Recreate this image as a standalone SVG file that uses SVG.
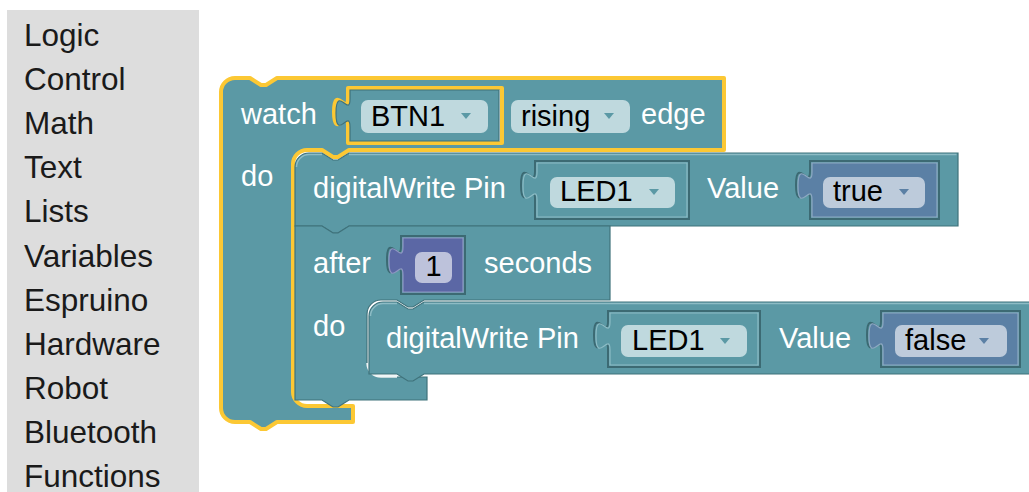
<svg xmlns="http://www.w3.org/2000/svg" width="1029" height="492" viewBox="0 0 1029 492">
<style>
.side{font-family:"Liberation Sans",Arial,sans-serif;font-size:31.5px;fill:#1a1a1a}
.lbl{font-family:"Liberation Sans",Arial,sans-serif;font-size:29px;fill:#fff}
.fld{font-family:"Liberation Sans",Arial,sans-serif;font-size:29px;fill:#000}
.teal{fill:#5b99a5;stroke:#8dbcc5;stroke-width:1.2}
.blue{fill:#5b80a5;stroke:#8ea8c2;stroke-width:1.2}
.purple{fill:#5b67a5;stroke:#8e96c2;stroke-width:1.2}
.body{fill:#5b99a5;stroke:#3f727b;stroke-width:1.2}
.hole{fill:none;stroke:#3c6a73;stroke-width:2}
.hl{fill:none;stroke:#8dbcc5;stroke-width:1.5}
.ft{fill:#bfd9de}
.fb{fill:#bdcbdb}
.fp{fill:#bdc2db}
.at{fill:#5b99a5}
.ab{fill:#5b80a5}
</style>
<rect x="7" y="10" width="192" height="482" fill="#dddddd"/>
<g id="toolbox">
<text class="side" x="24" y="46">Logic</text>
<text class="side" x="24" y="90">Control</text>
<text class="side" x="24" y="134">Math</text>
<text class="side" x="24" y="178">Text</text>
<text class="side" x="24" y="222">Lists</text>
<text class="side" x="24" y="267">Variables</text>
<text class="side" x="24" y="311">Espruino</text>
<text class="side" x="24" y="355">Hardware</text>
<text class="side" x="24" y="399">Robot</text>
<text class="side" x="24" y="443">Bluetooth</text>
<text class="side" x="24" y="487">Functions</text>
</g>
<g id="connectors"></g>
<g id="watch">
<path d="M221,92 a14,14 0 0 1 14,-14 H250 l11,7 5,0 11,-7 H724 V150 H349 l-11,7 -5,0 -11,-7 H307 a14,14 0 0 0 -14,14 V392 a14,14 0 0 0 14,14 H353 V422 H277 l-11,7 -5,0 -11,-7 H235 a14,14 0 0 1 -14,-14 Z M502,88 H348 V98 c0,19 -14,-15 -14,14 s14,-5 14,14 V143 H502 Z" fill="#5b99a5" fill-rule="evenodd" stroke="#fcc834" stroke-width="4" stroke-linejoin="round"/>
<text class="lbl" x="241" y="124">watch</text>
<text class="lbl" x="241" y="186">do</text>
<text class="lbl" x="641" y="124">edge</text>
<rect class="ft" x="511" y="100" width="119" height="33" rx="7"/>
<text class="fld" x="521" y="126">rising</text>
<polygon class="at" points="604,113 614,113 609,119"/>
</g>
<g id="btn1">
<path class="body" d="M499,90 H350 V99 c0,19 -14,-15 -14,14 s14,-5 14,14 V141 H499 Z"/>
<rect class="ft" x="361" y="100" width="127" height="33" rx="7"/>
<text class="fld" x="371" y="126">BTN1</text>
<polygon class="at" points="461,113 471,113 466,119"/>
</g>
<g id="digitalWrite1">
<path class="body" d="M295,167 a14,14 0 0 1 14,-14 H322 l11,7 5,0 11,-7 H958 V226 H349 l-11,7 -5,0 -11,-7 H295 Z"/>
<path class="hl" d="M296.5,167 a12.5,12.5 0 0 1 12.5,-12.5 H322 M349,154.5 H956.5"/>
<text class="lbl" x="313" y="198">digitalWrite Pin</text>
<path class="hole" d="M689,161 H535 V171 c0,19 -14,-15 -14,14 s14,-5 14,14 V219 H689 Z"/>
<text class="lbl" x="707" y="198">Value</text>
<path class="hole" d="M939,161 H810 V171 c0,19 -14,-15 -14,14 s14,-5 14,14 V219 H939 Z"/>
</g>
<g id="led1a">
<path class="teal" d="M687,163 H537 V172 c0,19 -14,-15 -14,14 s14,-5 14,14 V217 H687 Z"/>
<rect class="ft" x="550" y="177" width="125" height="31" rx="7"/>
<text class="fld" x="560" y="201">LED1</text>
<polygon class="at" points="649,189 659,189 654,195"/>
</g>
<g id="true">
<path class="blue" d="M937,163 H812 V172 c0,19 -14,-15 -14,14 s14,-5 14,14 V217 H937 Z"/>
<rect class="fb" x="823" y="177" width="102" height="31" rx="7"/>
<text class="fld" x="833" y="201">true</text>
<polygon class="ab" points="899,189 909,189 904,195"/>
</g>
<g id="after">
<path class="body" d="M295,226 H322 l11,7 5,0 11,-7 H610 V300 H424 l-11,7 -5,0 -11,-7 H381 a14,14 0 0 0 -14,14 V363 a14,14 0 0 0 14,14 H427 V400 H349 l-11,7 -5,0 -11,-7 H295 Z"/>
<path d="M367.5,363 a13.5,13.5 0 0 0 13.5,13.5 H397" fill="none" stroke="#eef5f6" stroke-width="2.5"/>
<text class="lbl" x="313" y="273">after</text>
<path class="hole" d="M465,236 H401 V246 c0,19 -14,-15 -14,14 s14,-5 14,14 V294 H465 Z"/>
<text class="lbl" x="484" y="273">seconds</text>
<text class="lbl" x="313" y="336">do</text>
</g>
<g id="num1">
<path class="purple" d="M463,238 H403 V247 c0,19 -14,-15 -14,14 s14,-5 14,14 V292 H463 Z"/>
<rect class="fp" x="415" y="252" width="37" height="31" rx="7"/>
<text class="fld" x="433.5" y="276" text-anchor="middle">1</text>
</g>
<g id="digitalWrite2">
<path class="body" d="M369,316 a14,14 0 0 1 14,-14 H397 l11,7 5,0 11,-7 H1040 V374 H424 l-11,7 -5,0 -11,-7 H369 Z"/>
<path class="hl" d="M370.5,316 a12.5,12.5 0 0 1 12.5,-12.5 H397 M424,303.5 H1040"/>
<text class="lbl" x="386" y="348">digitalWrite Pin</text>
<path class="hole" d="M760,311 H608 V321 c0,19 -14,-15 -14,14 s14,-5 14,14 V367 H760 Z"/>
<text class="lbl" x="779" y="348">Value</text>
<path class="hole" d="M1020,311 H881 V321 c0,19 -14,-15 -14,14 s14,-5 14,14 V367 H1020 Z"/>
</g>
<g id="led1b">
<path class="teal" d="M758,313 H610 V322 c0,19 -14,-15 -14,14 s14,-5 14,14 V365 H758 Z"/>
<rect class="ft" x="621" y="325" width="126" height="32" rx="7"/>
<text class="fld" x="632" y="350">LED1</text>
<polygon class="at" points="720,338 730,338 725,344"/>
</g>
<g id="false">
<path class="blue" d="M1018,313 H883 V322 c0,19 -14,-15 -14,14 s14,-5 14,14 V365 H1018 Z"/>
<rect class="fb" x="895" y="325" width="112" height="32" rx="7"/>
<text class="fld" x="905" y="350">false</text>
<polygon class="ab" points="979,338 989,338 984,344"/>
</g>
</svg>
